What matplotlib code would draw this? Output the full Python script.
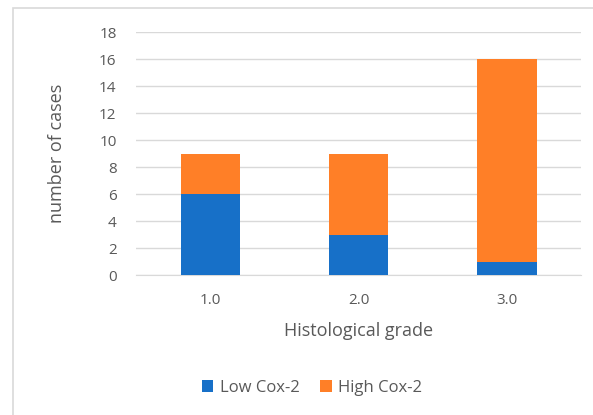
import numpy as np
import matplotlib.pyplot as plt
from matplotlib.patches import Rectangle

grades = ['1.0', '2.0', '3.0']
low_cox2 = [6, 3, 1]
high_cox2 = [3, 6, 15]

blue = '#1770C8'
orange = '#FF7F27'
gray = '#595959'

plt.rcParams['font.family'] = ['Open Sans', 'DejaVu Sans']

fig = plt.figure(figsize=(5.93, 4.15), dpi=100)
# chart border, Excel-style
fig.patches.append(Rectangle((13/593, -0.05), 1.1, 1 - 8/415 + 0.05, transform=fig.transFigure,
                             fill=False, edgecolor='#D9D9D9', linewidth=1.2))

ax = fig.add_axes([136/593, 1 - 275/415, 445/593, 243/415])
x = np.arange(len(grades))
ax.bar(x, low_cox2, width=0.4, color=blue, label='Low Cox-2', zorder=3)
ax.bar(x, high_cox2, width=0.4, bottom=low_cox2, color=orange, label='High Cox-2', zorder=3)

ax.set_xlim(-0.5, 2.5)
ax.set_ylim(0, 18)
ax.set_yticks(range(0, 19, 2))
ax.set_xticks(x)
ax.set_xticklabels(grades)
ax.grid(axis='y', color='#D9D9D9', linewidth=1, zorder=0)
for s in ['top', 'right', 'left']:
    ax.spines[s].set_visible(False)
ax.spines['bottom'].set_color('#D9D9D9')
ax.tick_params(length=0, colors=gray, labelsize=11)
ax.tick_params(axis='x', pad=13)
ax.tick_params(axis='y', pad=14)

ax.set_xlabel('Histological grade', color=gray, fontsize=13, labelpad=10)
ax.set_ylabel('number of cases', color=gray, fontsize=13, labelpad=24)

fig.legend(loc='center', bbox_to_anchor=(312/593, 1 - 388/415), ncol=2, frameon=False,
           fontsize=12, labelcolor=gray, handlelength=0.7, handleheight=0.7,
           handletextpad=0.4, columnspacing=1.2)

fig.savefig('out.png', dpi=100)
